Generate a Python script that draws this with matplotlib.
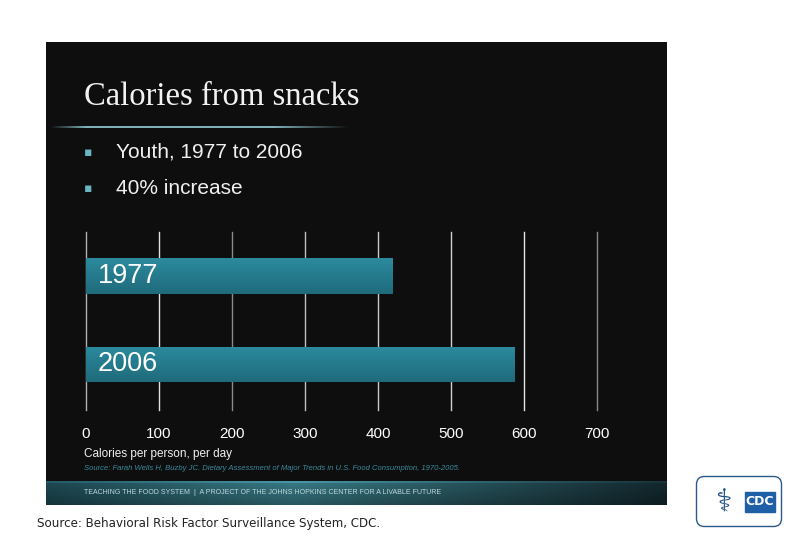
import matplotlib
matplotlib.use("Agg")
import matplotlib.pyplot as plt
import numpy as np
from matplotlib.patches import Rectangle, FancyBboxPatch

years = ["1977", "2006"]
calories = [420, 587]
xticks = [0, 100, 200, 300, 400, 500, 600, 700]
title = "Calories from snacks"
bullets = ["Youth, 1977 to 2006", "40% increase"]
xlabel = "Calories per person, per day"
source_inner = "Source: Farah Wells H, Buzby JC. Dietary Assessment of Major Trends in U.S. Food Consumption, 1970-2005."
footer = "TEACHING THE FOOD SYSTEM  |  A PROJECT OF THE JOHNS HOPKINS CENTER FOR A LIVABLE FUTURE"
source_outer = "Source: Behavioral Risk Factor Surveillance System, CDC."

W, H = 810, 540
fig = plt.figure(figsize=(8.1, 5.4), dpi=100)
fig.patch.set_facecolor("white")

def fx(x): return x / W
def fy(y): return 1 - y / H

# slide background
bg = fig.add_axes([fx(46), fy(505), fx(667 - 46), (505 - 42) / H])
bg.set_xlim(0, 1); bg.set_ylim(0, 1); bg.axis("off")
bg.add_patch(Rectangle((0, 0), 1, 1, color="#0e0e0e", zorder=0))

# footer band gradient
fb = fig.add_axes([fx(46), fy(505), fx(667 - 46), (505 - 481) / H])
xs = np.linspace(0, 1, 300)
c1 = np.array([0x1c, 0x45, 0x4e]) / 255
c2 = np.array([0x36, 0x74, 0x7f]) / 255
c3 = np.array([0x12, 0x26, 0x2b]) / 255
peak = 0.4
grad = np.array([c1 + (c2 - c1) * (x / peak) if x < peak else c2 + (c3 - c2) * ((x - peak) / (1 - peak))
                 for x in xs])
vert = np.linspace(1.05, 0.75, 24)[:, None, None]
img = np.clip(vert * grad[None, :, :], 0, 1)
img[0:2] = np.clip(img[0:2] * 1.25, 0, 1)
fb.imshow(img, aspect="auto", extent=(0, 1, 0, 1))
fb.axis("off")

# title and separator
fig.text(fx(84), fy(96.5), title, family="Liberation Serif", fontsize=23.5, color="#f2f2f2", va="center", ha="left")
sep = fig.add_axes([fx(50), fy(128), fx(300), 2 / H])
sep.axis("off")
sg = np.linspace(0, 1, 200)
alpha_prof = np.clip(np.minimum(sg / 0.12, (1 - sg) / 0.25), 0, 1)
sep_img = np.zeros((1, 200, 4))
sep_img[..., :3] = np.array([0x7f, 0xb0, 0xb8]) / 255
sep_img[..., 3] = alpha_prof
sep.imshow(sep_img, aspect="auto", extent=(0, 1, 0, 1), interpolation="nearest")

# bullets
for i, b in enumerate(bullets):
    yy = 152 + i * 36
    fig.text(fx(88), fy(yy), "\u25aa", fontsize=9, color="#6ab4c4", va="center", ha="center")
    fig.text(fx(116), fy(yy), b, family="Liberation Sans", fontsize=15, color="#f0f0f0", va="center", ha="left")

# chart axes
ax = fig.add_axes([fx(86), fy(410), fx(596.8 - 86), (410 - 232) / H])
ax.set_facecolor("none")
ypos = np.arange(len(years))
grid_colors = ["#b0b0b0", "#e0e0e0", "#8a8a8a", "#c0c0c0", "#c8c8c8", "#d0d0d0", "#e6e6e6", "#8a8a8a"]
for t, gc in zip(xticks, grid_colors):
    ax.axvline(t, color=gc, lw=1.0, zorder=1, clip_on=False)
bars = ax.barh(ypos, calories, height=0.4, color="#277f92", zorder=2)
top_c = np.array([0x2b, 0x8a, 0x9d]) / 255
bot_c = np.array([0x1f, 0x6b, 0x7c]) / 255
gimg = top_c[None, None, :] + (bot_c - top_c)[None, None, :] * np.linspace(0, 1, 50)[:, None, None]
for bar, lab in zip(bars, years):
    x0, y0 = bar.get_x(), bar.get_y()
    w, h = bar.get_width(), bar.get_height()
    im = ax.imshow(gimg, aspect="auto", extent=(x0, x0 + w, y0 + h, y0), zorder=3)
    im.set_clip_path(bar)
    ax.text(x0 + 16, y0 + h / 2, lab, family="Liberation Sans", fontsize=19.5, color="white",
            va="center", ha="left", zorder=4)
ax.set_ylim(1.52, -0.5)
ax.set_xlim(0, 700)
ax.set_xticks(xticks)
ax.set_xticklabels([str(t) for t in xticks], family="Liberation Sans", fontsize=11, color="white")
ax.tick_params(axis="x", length=0, pad=12)
ax.set_yticks([])
for s in ax.spines.values():
    s.set_visible(False)

fig.text(fx(84), fy(454), xlabel, family="Liberation Sans", fontsize=8.5, color="#f0f0f0", va="center", ha="left")
fig.text(fx(84), fy(469), source_inner, family="Liberation Sans", fontsize=5.5, color="#3a8a9c",
         va="center", ha="left", style="italic")
fig.text(fx(84), fy(493), footer, family="Liberation Sans", fontsize=5.0, color="#c0d8de",
         va="center", ha="left")

# outer source
fig.text(fx(37), fy(524), source_outer, family="DejaVu Sans", fontsize=8.6, color="#222222",
         va="center", ha="left")

# CDC logo
lg = fig.add_axes([fx(695), fy(528), fx(88), 53 / H])
lg.set_xlim(0, 88); lg.set_ylim(0, 53); lg.axis("off")
lg.add_patch(FancyBboxPatch((1.5, 1.5), 85, 50, boxstyle="round,pad=0,rounding_size=8",
                            fc="white", ec="#2a5a8a", lw=1.0))
lg.add_patch(Rectangle((50, 16), 30, 20, color="#1f5fa8"))
lg.text(65, 26.5, "CDC", fontsize=9, fontweight="bold", color="white", ha="center", va="center",
        family="DejaVu Sans")
lg.text(28, 25, "\u2695", fontsize=22, color="#1f4f8a", ha="center", va="center", family="DejaVu Sans")

fig.savefig("out.png", dpi=100, facecolor="white")
